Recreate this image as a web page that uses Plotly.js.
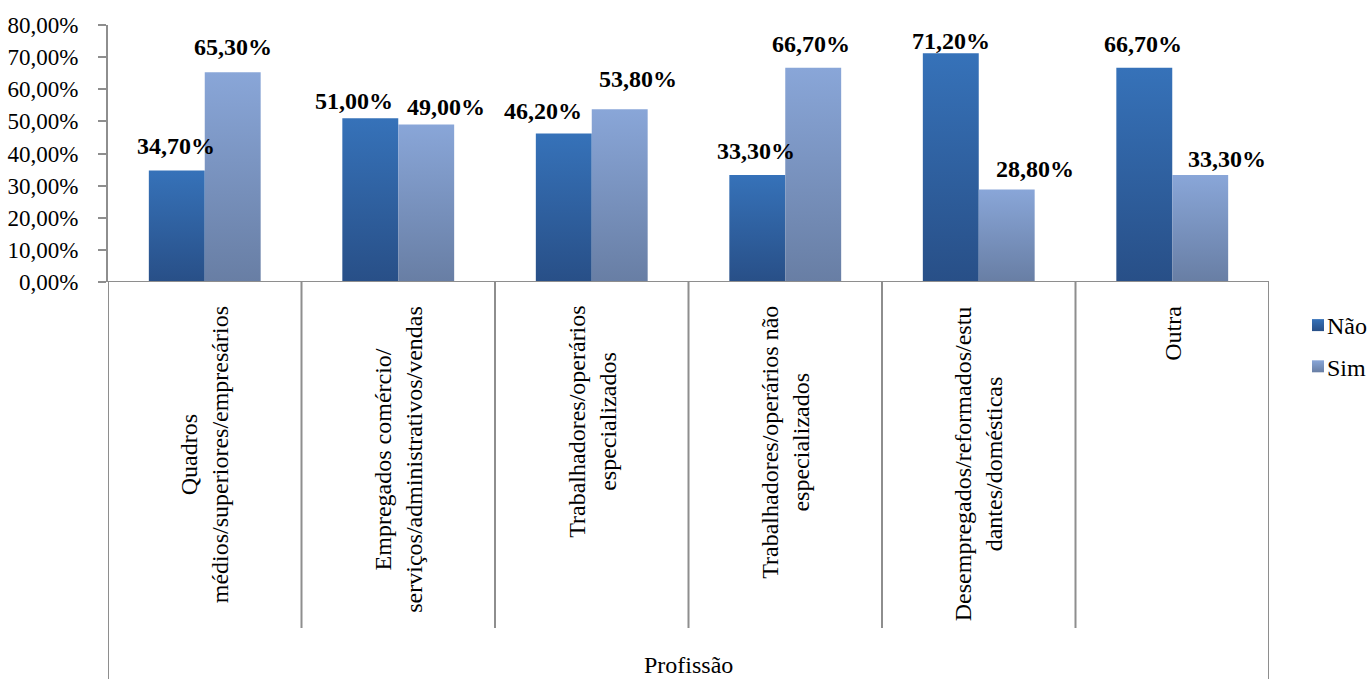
<!DOCTYPE html>
<html>
<head>
<meta charset="utf-8">
<script src="https://cdn.plot.ly/plotly-3.0.1.min.js"></script>
<style>html,body{margin:0;padding:0;background:#fff;}#chart{width:1371px;height:679px;}</style>
</head>
<body>
<div id="chart"></div>
<script>
const categories = ["Quadros médios/superiores/empresários", "Empregados comércio/serviços/administrativos/vendas", "Trabalhadores/operários especializados", "Trabalhadores/operários não especializados", "Desempregados/reformados/estudantes/domésticas", "Outra"];
const categoryLabels = ["Quadros<br>médios/superiores/empresários", "Empregados comércio/<br>serviços/administrativos/vendas", "Trabalhadores/operários<br>especializados", "Trabalhadores/operários não<br>especializados", "Desempregados/reformados/estu<br>dantes/domésticas", "Outra"];
const naoValues = [34.7, 51.0, 46.2, 33.3, 71.2, 66.7];
const simValues = [65.3, 49.0, 53.8, 66.7, 28.8, 33.3];
const seriesNames = ["Não", "Sim"];
const axisGroupTitle = "Profissão";

// label nudges in pixels (as placed in the original chart)
const naoLabelDx = [-1, -16, -21, -1, 0, -1];
const naoLabelDy = [25, 17, 23, 24, 12, 24];
const simLabelDx = [0, 20, 18, -2, 28, 27];
const simLabelDy = [25, 18, 30, 24, 20, 16];

const FONT = "Liberation Serif";
const fmt = v => v.toFixed(2).replace('.', ',') + '%';
const xs = categories.map((c, i) => i);

const traces = [
  {type: 'bar', name: seriesNames[0], x: xs, y: naoValues, marker: {color: '#2f5f9f'}, legendgroup: 'a', hoverinfo: 'none'},
  {type: 'bar', name: seriesNames[1], x: xs, y: simValues, marker: {color: '#7d96c3'}, legendgroup: 'b', hoverinfo: 'none'}
];

const bargap = 0.422;
const barOff = (1 - bargap) / 4;
const annotations = [];
const lblFont = {family: FONT, size: 24, color: '#000'};
naoValues.forEach((v, i) => annotations.push({x: i - barOff, y: v, xref: 'x', yref: 'y', text: '<b>' + fmt(v) + '</b>', showarrow: false, xanchor: 'center', yanchor: 'middle', xshift: naoLabelDx[i], yshift: naoLabelDy[i], font: lblFont}));
simValues.forEach((v, i) => annotations.push({x: i + barOff, y: v, xref: 'x', yref: 'y', text: '<b>' + fmt(v) + '</b>', showarrow: false, xanchor: 'center', yanchor: 'middle', xshift: simLabelDx[i], yshift: simLabelDy[i], font: lblFont}));

const plotBottom = 282, plotH = 257;
const labelTop = (plotBottom - 304) / plotH;
categoryLabels.forEach((t, i) => annotations.push({x: i, y: labelTop, xref: 'x', yref: 'paper', text: t, textangle: -90, showarrow: false, xanchor: 'center', yanchor: 'top', align: 'center', font: {family: FONT, size: 24, color: '#000'}}));
annotations.push({x: 0.5, y: (plotBottom - 665) / plotH, xref: 'paper', yref: 'paper', text: axisGroupTitle, showarrow: false, xanchor: 'center', yanchor: 'middle', font: {family: FONT, size: 24, color: '#000'}});

const shapes = [];
const divBottom = (plotBottom - 628) / plotH;
const outerBottom = (plotBottom - 690) / plotH;
for (let k = 0; k <= categories.length; k++) {
  const outer = (k === 0 || k === categories.length);
  shapes.push({type: 'line', xref: 'x', yref: 'paper', x0: k - 0.5, x1: k - 0.5, y0: 0, y1: outer ? outerBottom : divBottom, line: {color: '#8e8e8e', width: 2}});
}
shapes.push({type: 'line', xref: 'paper', yref: 'y', x0: 0, x1: 1, y0: 0, y1: 0, line: {color: '#8e8e8e', width: 2}});

const layout = {
  width: 1371, height: 679,
  margin: {l: 108, r: 102, t: 25, b: 397, autoexpand: false},
  paper_bgcolor: '#fff', plot_bgcolor: '#fff',
  font: {family: FONT, size: 20, color: '#000'},
  separators: ',.',
  barmode: 'group', bargap: bargap, bargroupgap: 0,
  showlegend: true,
  legend: {x: 1.0155, y: (plotBottom - 303) / plotH, xanchor: 'left', yanchor: 'top', font: {family: FONT, size: 24, color: '#000'}, tracegroupgap: 7, traceorder: 'grouped', itemwidth: 30, bgcolor: 'rgba(0,0,0,0)'},
  xaxis: {type: 'linear', range: [-0.5, categories.length - 0.5], showticklabels: false, showgrid: false, zeroline: false, showline: false, ticks: '', fixedrange: true},
  yaxis: {range: [0, 80], dtick: 10, tickformat: '.2f', ticksuffix: '%', showgrid: false, zeroline: false, showline: true, linecolor: '#8e8e8e', linewidth: 2, ticks: 'outside', ticklen: 8, tickcolor: '#8e8e8e', tickwidth: 2, ticklabelstandoff: 15, tickfont: {family: FONT, size: 23, color: '#000'}},
  annotations: annotations,
  shapes: shapes
};

const gd = document.getElementById('chart');
Plotly.newPlot(gd, traces, layout, {displayModeBar: false, staticPlot: true}).then(() => {
  const svg = gd.querySelector('.main-svg');
  let defs = svg.querySelector('defs');
  if (!defs) { defs = document.createElementNS('http://www.w3.org/2000/svg', 'defs'); svg.insertBefore(defs, svg.firstChild); }
  const mk = (id, top, bottom) => {
    const g = document.createElementNS('http://www.w3.org/2000/svg', 'linearGradient');
    g.setAttribute('id', id); g.setAttribute('x1', '0'); g.setAttribute('y1', '0'); g.setAttribute('x2', '0'); g.setAttribute('y2', '1');
    [[0, top], [1, bottom]].forEach(([o, c]) => {
      const s = document.createElementNS('http://www.w3.org/2000/svg', 'stop');
      s.setAttribute('offset', o); s.setAttribute('stop-color', c); g.appendChild(s);
    });
    defs.appendChild(g);
  };
  mk('gNao', '#3672b9', '#284f87');
  mk('gSim', '#89a6d8', '#687ea4');
  const ids = ['url(#gNao)', 'url(#gSim)'];
  gd.querySelectorAll('.barlayer .trace.bars').forEach((t, i) => {
    t.querySelectorAll('.point path').forEach(p => { p.style.fill = ids[i]; });
  });
  gd.querySelectorAll('.legend .traces').forEach((t, i) => {
    t.querySelectorAll('.legendpoints path').forEach(p => { p.style.fill = ids[i]; p.style.stroke = 'none'; });
    const lp = t.querySelector('.legendpoints');
    if (lp) lp.setAttribute('transform', 'translate(11,0)');
  });
});
</script>
</body>
</html>
